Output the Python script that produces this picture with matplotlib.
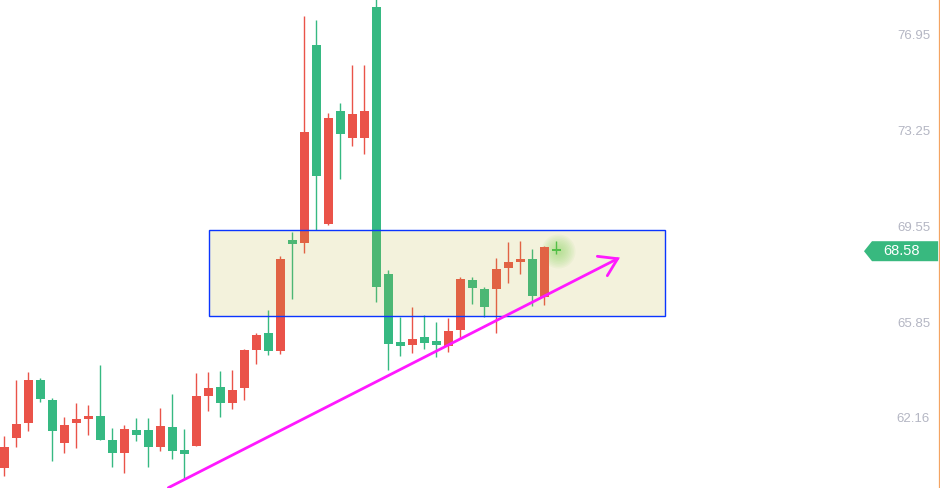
import numpy as np
import matplotlib
matplotlib.use('Agg')
import matplotlib.pyplot as plt
import matplotlib.patches as mpatches
import matplotlib.transforms as mtransforms

# candle data (red = up, green = down)
opens  = [60.24, 61.39, 61.97, 63.62, 62.85, 61.20, 61.97, 62.13, 62.23, 61.30,
          60.82, 61.69, 61.69, 61.05, 61.81, 60.92, 61.09, 63.01, 63.35, 62.74,
          63.32, 64.77, 65.43, 64.73, 69.01, 68.90, 76.53, 69.64, 73.98, 72.95,
          72.95, 77.99, 67.70, 65.08, 64.98, 65.27, 65.12, 64.94, 65.56, 67.47,
          67.12, 67.14, 67.94, 68.18, 68.28, 66.83, 68.66]
highs  = [61.46, 63.62, 63.93, 63.69, 62.92, 62.19, 62.73, 62.65, 64.19, 61.77,
          61.88, 62.15, 62.15, 62.54, 63.08, 61.73, 63.89, 63.93, 63.96, 64.00,
          64.81, 65.43, 66.31, 68.40, 69.32, 77.64, 77.49, 73.91, 74.29, 75.76,
          75.76, 78.50, 67.86, 66.06, 66.43, 66.12, 65.85, 66.01, 67.59, 67.59,
          67.20, 68.32, 68.93, 68.97, 68.67, 68.78, 68.97]
lows   = [59.93, 61.05, 61.66, 62.78, 60.51, 60.82, 61.01, 61.51, 61.32, 60.28,
          60.04, 61.28, 60.28, 60.89, 60.58, 59.81, 61.09, 62.43, 62.20, 62.51,
          62.86, 64.23, 64.58, 64.62, 66.74, 68.51, 69.40, 69.60, 71.37, 72.65,
          72.34, 66.63, 64.01, 64.55, 64.67, 64.82, 64.51, 64.71, 65.25, 66.56,
          66.06, 65.44, 67.37, 67.71, 66.48, 66.52, 68.48]
closes = [61.04, 61.92, 63.62, 62.90, 61.66, 61.88, 62.11, 62.23, 61.32, 60.82,
          61.73, 61.51, 61.05, 61.84, 60.89, 60.78, 63.00, 63.31, 62.74, 63.23,
          64.77, 65.35, 64.75, 68.28, 68.86, 73.17, 71.49, 73.71, 73.11, 73.87,
          73.98, 67.21, 65.02, 64.94, 65.20, 65.05, 64.98, 65.51, 67.51, 67.17,
          66.44, 67.89, 68.16, 68.28, 66.87, 68.74, 68.58]

price_ticks = [62.16, 65.85, 69.55, 73.25, 76.95]
last_price = 68.58

# annotations drawn on the chart
zone_left, zone_right = 17.08, 55.08
zone_bottom, zone_top = 66.07, 69.385
trend_start = (13.67, 59.466)
trend_end = (51.11, 68.291)
head_a = (49.42, 68.383)
head_b = (50.25, 67.636)

UP = '#ea5349'
DOWN = '#36b982'
LIVE = '#3fc24c'

fig = plt.figure(figsize=(9.4, 4.88), dpi=100)
ax = fig.add_axes([0, 0, 1, 1])
ax.set_xlim(-0.358, 77.975)
ax.set_ylim(59.455, 78.26)
ax.axis('off')

n = len(opens)
x = np.arange(n)
o = np.array(opens)
c = np.array(closes)
h = np.array(highs)
l = np.array(lows)
cols = [UP if c[i] >= o[i] else DOWN for i in range(n)]
cols[-1] = LIVE

# glow around the live candle
for k in range(10):
    r = 17 - k * 1.5
    ax.scatter([x[-1] + 0.15], [c[-1]], s=(2 * r * 0.72) ** 2, color='#8fe07a',
               alpha=0.08, lw=0, zorder=1)

ax.vlines(x, l, h, colors=cols, lw=1.0, zorder=2)
body_lo = np.minimum(o, c)
body_h = np.maximum(np.abs(c - o), 0.08)
ax.bar(x, body_h, bottom=body_lo, width=0.75, color=cols, lw=0, zorder=3)

# consolidation zone
rect = mpatches.Rectangle((zone_left, zone_bottom), zone_right - zone_left,
                          zone_top - zone_bottom,
                          facecolor=(185 / 255, 179 / 255, 49 / 255, 0.17),
                          edgecolor='#0a35ff', lw=1.0, zorder=4)
ax.add_patch(rect)

# trend arrow
mag = '#ff19ff'
ax.plot([trend_start[0], trend_end[0]], [trend_start[1], trend_end[1]],
        color=mag, lw=2.0, zorder=5, solid_capstyle='round')
ax.plot([head_a[0], trend_end[0], head_b[0]], [head_a[1], trend_end[1], head_b[1]],
        color=mag, lw=2.0, zorder=5, solid_capstyle='round', solid_joinstyle='miter')

# right side price scale
trans = mtransforms.blended_transform_factory(ax.transAxes, ax.transData)
for t in price_ticks:
    ax.text(930 / 940, t - 0.06, '%.2f' % t, transform=trans, ha='right', va='center',
            color='#b4b6c3', fontsize=9.5, family='Liberation Sans')

# orange border on the right edge
ax.plot([0.9985, 0.9985], [0, 1], transform=ax.transAxes, color='#f4a462', lw=0.9,
        clip_on=False)

# last price tag
half = 10 / 25.95
tag = mpatches.Polygon([(864 / 940, last_price), (872 / 940, last_price + half),
                        (0.998, last_price + half), (0.998, last_price - half),
                        (872 / 940, last_price - half)], closed=True,
                       transform=trans, facecolor='#38b97f', edgecolor='none', zorder=6)
ax.add_patch(tag)
ax.text(902 / 940, last_price, '%.2f' % last_price, transform=trans, ha='center',
        va='center', color='white', fontsize=10.5, family='Liberation Sans', zorder=7)

plt.savefig('out.png', dpi=100)
